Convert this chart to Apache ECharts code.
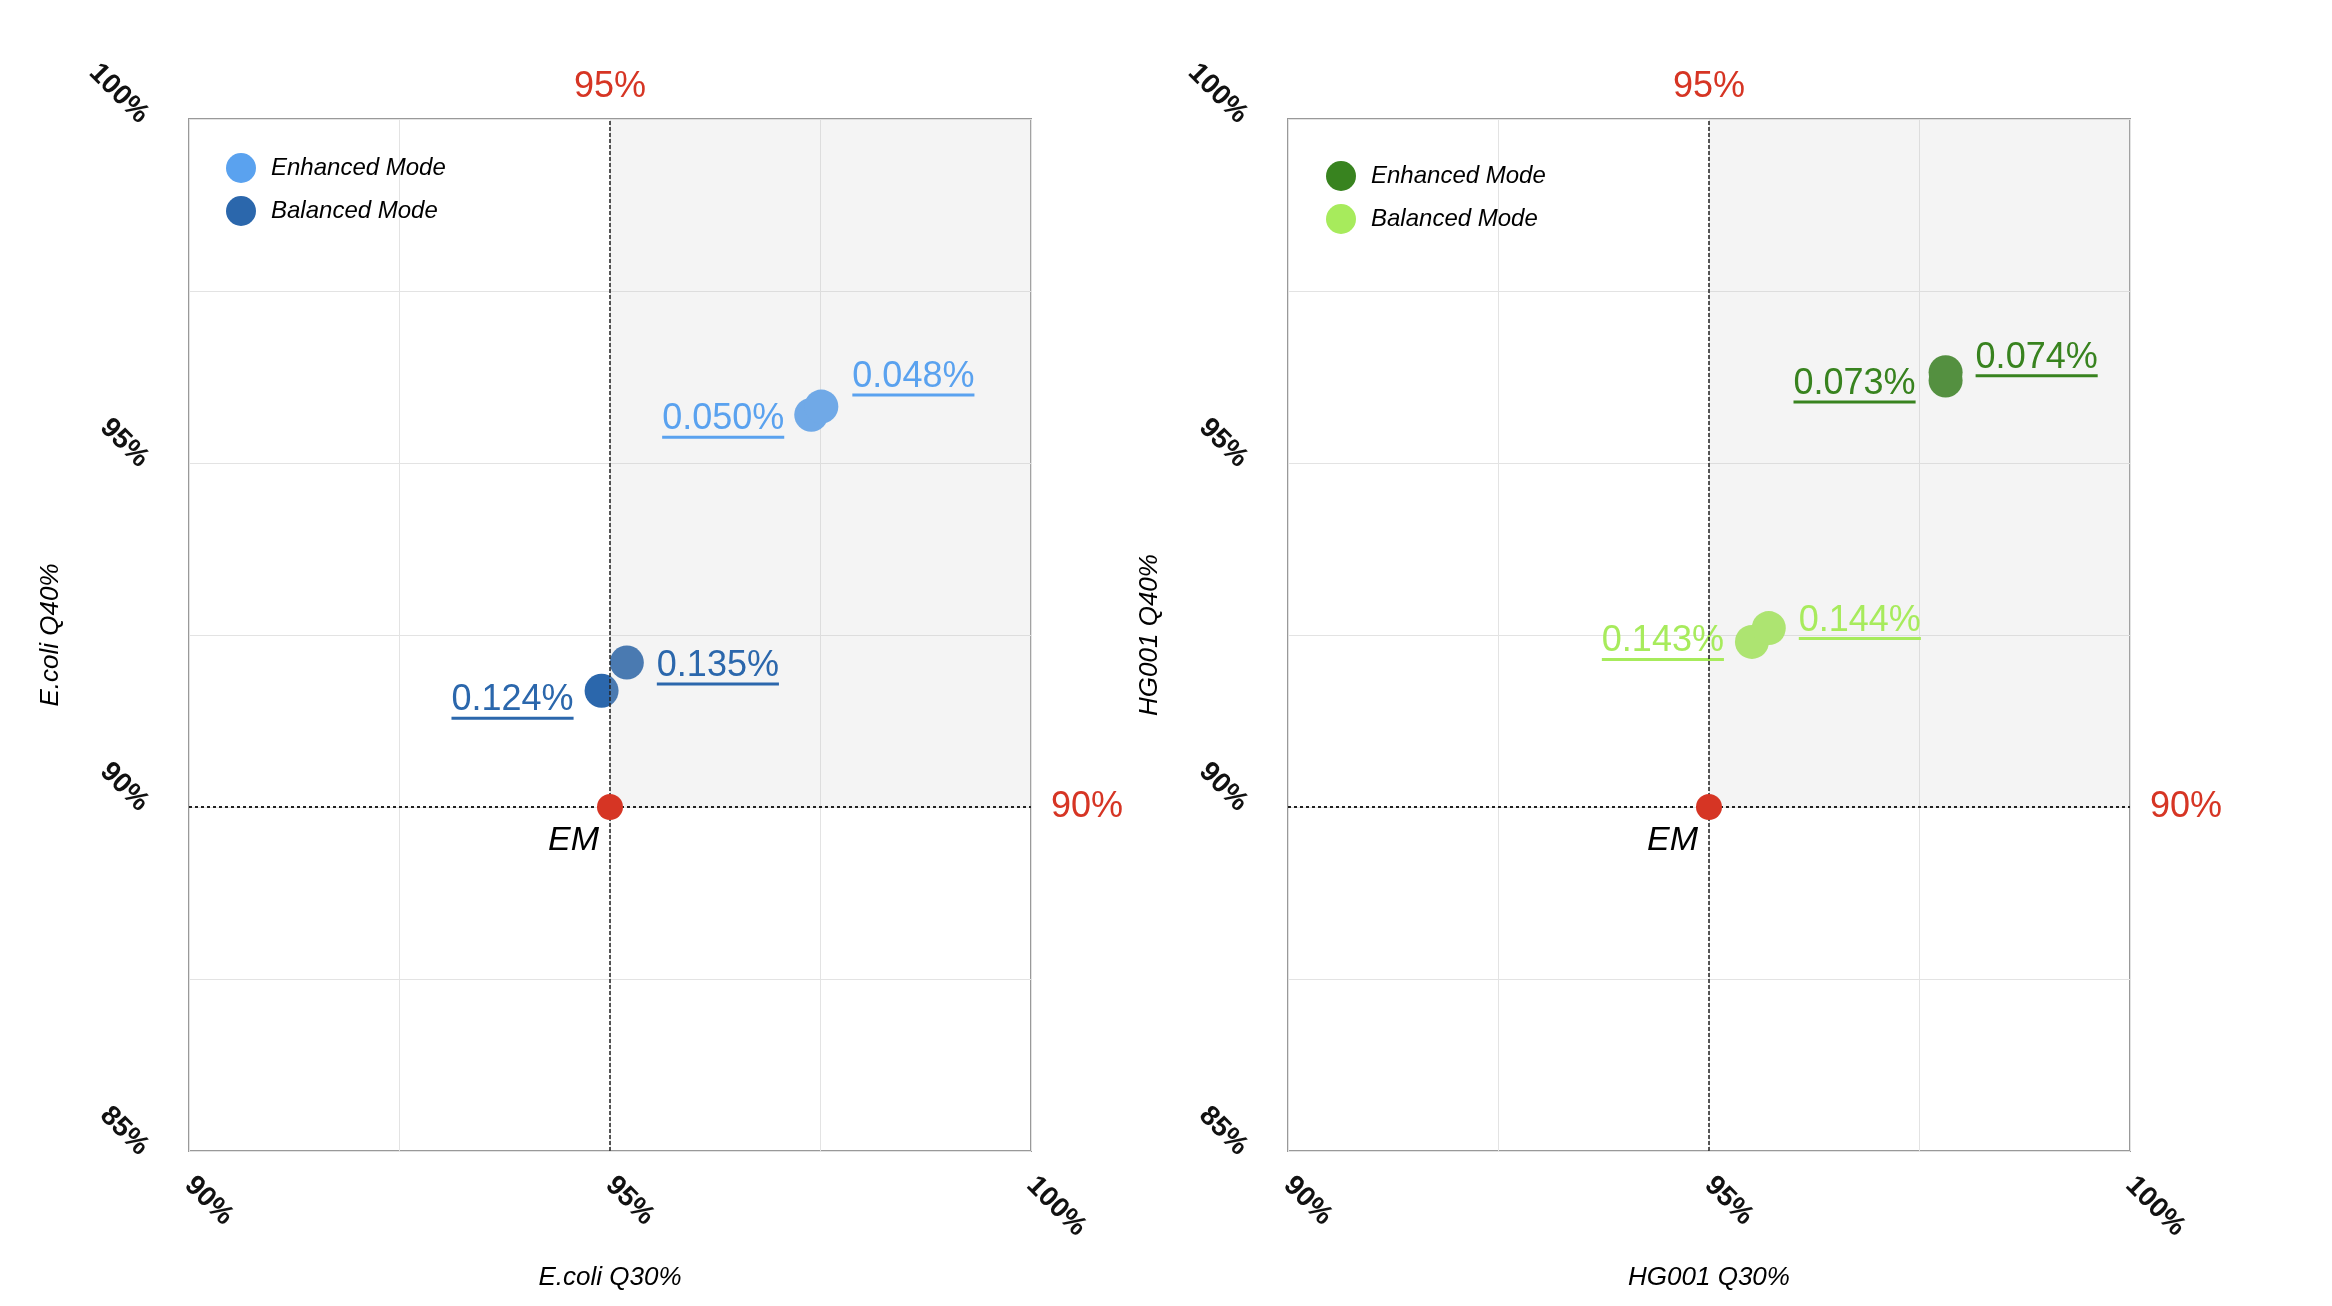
<!DOCTYPE html>
<html>
<head>
<meta charset="utf-8">
<script src="https://cdn.jsdelivr.net/npm/echarts@6/dist/echarts.min.js"></script>
<style>
html,body{margin:0;padding:0;background:#fff;}
#chart{width:2332px;height:1306px;}
</style>
</head>
<body>
<div id="chart"></div>
<script>
// ---------- data ----------
const seriesNames = ['Enhanced Mode', 'Balanced Mode'];
const xLabelTicks = [90, 95, 100];
const yLabelTicks = [85, 90, 95, 100];
const q30Threshold = 95;
const q40Threshold = 90;

// E.coli panel
const ecoliEnhancedQ30 = [97.39, 97.51];
const ecoliEnhancedQ40 = [95.70, 95.82];
const ecoliEnhancedRate = [0.050, 0.048];
const ecoliBalancedQ30 = [94.90, 95.20];
const ecoliBalancedQ40 = [91.69, 92.10];
const ecoliBalancedRate = [0.124, 0.135];

// HG001 panel
const hgEnhancedQ30 = [97.81, 97.81];
const hgEnhancedQ40 = [96.20, 96.32];
const hgEnhancedRate = [0.073, 0.074];
const hgBalancedQ30 = [95.51, 95.71];
const hgBalancedQ40 = [92.40, 92.60];
const hgBalancedRate = [0.143, 0.144];

// ---------- styles ----------
const FONT = '"Liberation Sans", Arial, Helvetica, sans-serif';
const RED = '#d63524';
const colors = {
  ecoliEnhanced: '#5aa2ef',
  ecoliBalanced: '#2b67ac',
  hgEnhanced: '#38831f',
  hgBalanced: '#a7eb5c'
};
// label placement per point (style only)
const labelLayouts = {
  ecoliEnhanced: [{pos: 'left', dist: 10, dy: 6}, {pos: 'right', dist: 14, dy: -28}],
  ecoliBalanced: [{pos: 'left', dist: 11, dy: 11}, {pos: 'right', dist: 13, dy: 5}],
  hgEnhanced: [{pos: 'left', dist: 13, dy: 5}, {pos: 'right', dist: 13, dy: -13}],
  hgBalanced: [{pos: 'left', dist: 11, dy: 1}, {pos: 'right', dist: 13, dy: -6}]
};

const grids = [
  {left: 189, top: 119, width: 842, height: 1032},
  {left: 1288, top: 119, width: 842, height: 1032}
];

function tickFmt(list) {
  return function (v) {
    return list.indexOf(Math.round(v * 100) / 100) >= 0 ? v + '%' : '';
  };
}

function makeAxisCommon() {
  return {
    type: 'value',
    nameLocation: 'middle',
    nameTextStyle: {fontSize: 26, fontStyle: 'italic', color: '#000', fontFamily: FONT},
    axisLine: {show: false},
    axisTick: {show: false},
    splitLine: {show: true, lineStyle: {color: '#e3e3e3', width: 1}},
    axisLabel: {rotate: -45, fontSize: 28, fontWeight: 'bold', color: '#111', fontFamily: FONT}
  };
}

function xAxisFor(gi, name) {
  const a = makeAxisCommon();
  a.gridIndex = gi; a.min = 90; a.max = 100; a.interval = 2.5;
  a.name = name; a.nameGap = 114;
  a.axisLabel.margin = 30;
  a.axisLabel.formatter = tickFmt(xLabelTicks);
  return a;
}
function yAxisFor(gi, name) {
  const a = makeAxisCommon();
  a.gridIndex = gi; a.min = 85; a.max = 100; a.interval = 2.5;
  a.name = name; a.nameGap = 125;
  a.axisLabel.margin = 45;
  a.axisLabel.formatter = tickFmt(yLabelTicks);
  return a;
}

// markers (below the shaded overlay)
function dataSeries(key, fullName, gi, xs, ys, rates) {
  return {
    type: 'scatter',
    name: fullName,
    xAxisIndex: gi, yAxisIndex: gi,
    z: 2,
    symbol: 'circle',
    symbolSize: 34,
    itemStyle: {color: colors[key], opacity: 1},
    emphasis: {disabled: true},
    label: {show: false},
    data: xs.map(function (x, i) { return [x, ys[i], rates[i]]; })
  };
}

// value labels (above the shaded overlay)
function labelSeries(key, gi, xs, ys, rates) {
  const color = colors[key];
  const layout = labelLayouts[key];
  return {
    type: 'scatter',
    name: key + '-labels',
    xAxisIndex: gi, yAxisIndex: gi,
    z: 4,
    silent: true,
    symbol: 'circle',
    symbolSize: 34,
    itemStyle: {color: 'rgba(0,0,0,0)', opacity: 1},
    emphasis: {disabled: true},
    label: {
      show: true,
      formatter: function (p) { return '{t|' + p.value[2].toFixed(3) + '%}\n{u| }'; },
      rich: {
        t: {fontSize: 36, lineHeight: 33, color: color, fontFamily: FONT},
        u: {width: '100%', height: 3, lineHeight: 3, fontSize: 1, backgroundColor: color}
      }
    },
    data: xs.map(function (x, i) {
      return {
        value: [x, ys[i], rates[i]],
        label: {position: layout[i].pos, distance: layout[i].dist, offset: [0, layout[i].dy]}
      };
    })
  };
}

function areaSeries(gi) {
  return {
    type: 'scatter', name: 'area' + gi, xAxisIndex: gi, yAxisIndex: gi, z: 3,
    data: [], silent: true,
    markArea: {
      silent: true,
      z: 3,
      itemStyle: {color: 'rgba(200,200,200,0.2)'},
      data: [[{xAxis: q30Threshold, yAxis: q40Threshold}, {xAxis: 100, yAxis: 100}]]
    }
  };
}

function lineSeries(gi) {
  const lbl = {show: true, color: RED, fontSize: 36, fontFamily: FONT};
  return {
    type: 'scatter', name: 'lines' + gi, xAxisIndex: gi, yAxisIndex: gi, z: 5,
    data: [], silent: true,
    markLine: {
      silent: true,
      z: 5,
      symbol: ['none', 'none'],
      animation: false,
      data: [
        {xAxis: q30Threshold,
         lineStyle: {type: [4, 2], width: 1.5, color: '#222'},
         label: Object.assign({}, lbl, {position: 'end', distance: 14, formatter: q30Threshold + '%'})},
        {yAxis: q40Threshold,
         lineStyle: {type: [3, 3], width: 2, color: '#222'},
         label: Object.assign({}, lbl, {position: 'end', distance: 20, padding: [6, 0, 0, 0], formatter: q40Threshold + '%'})}
      ]
    }
  };
}

function emSeries(gi) {
  return {
    type: 'scatter', name: 'EM' + gi, xAxisIndex: gi, yAxisIndex: gi, z: 6,
    symbolSize: 26,
    itemStyle: {color: RED, opacity: 1},
    emphasis: {disabled: true},
    label: {
      show: true, formatter: 'EM', position: [2, 30], align: 'right', verticalAlign: 'top',
      fontSize: 34, fontStyle: 'italic', color: '#000', fontFamily: FONT
    },
    data: [[q30Threshold, q40Threshold]]
  };
}

function legendFor(prefix, left, top, gap) {
  return {
    data: seriesNames.map(function (n) { return prefix + '|' + n; }),
    formatter: function (name) { return name.split('|')[1]; },
    orient: 'vertical',
    left: left, top: top,
    icon: 'circle',
    itemWidth: 50, itemHeight: 30, itemGap: gap,
    selectedMode: false,
    textStyle: {fontSize: 24, fontStyle: 'italic', color: '#000', fontFamily: FONT}
  };
}

const option = {
  animation: false,
  backgroundColor: '#fff',
  textStyle: {fontFamily: FONT},
  grid: grids.map(function (g) {
    return Object.assign({show: true, borderColor: '#999', borderWidth: 2, backgroundColor: 'transparent', containLabel: false}, g);
  }),
  legend: [legendFor('E.coli', 221, 148, 13), legendFor('HG001', 1321, 156, 13)],
  xAxis: [xAxisFor(0, 'E.coli Q30%'), xAxisFor(1, 'HG001 Q30%')],
  yAxis: [yAxisFor(0, 'E.coli Q40%'), yAxisFor(1, 'HG001 Q40%')],
  series: [
    dataSeries('ecoliEnhanced', 'E.coli|' + seriesNames[0], 0, ecoliEnhancedQ30, ecoliEnhancedQ40, ecoliEnhancedRate),
    dataSeries('ecoliBalanced', 'E.coli|' + seriesNames[1], 0, ecoliBalancedQ30, ecoliBalancedQ40, ecoliBalancedRate),
    dataSeries('hgEnhanced', 'HG001|' + seriesNames[0], 1, hgEnhancedQ30, hgEnhancedQ40, hgEnhancedRate),
    dataSeries('hgBalanced', 'HG001|' + seriesNames[1], 1, hgBalancedQ30, hgBalancedQ40, hgBalancedRate),
    areaSeries(0), areaSeries(1),
    labelSeries('ecoliEnhanced', 0, ecoliEnhancedQ30, ecoliEnhancedQ40, ecoliEnhancedRate),
    labelSeries('ecoliBalanced', 0, ecoliBalancedQ30, ecoliBalancedQ40, ecoliBalancedRate),
    labelSeries('hgEnhanced', 1, hgEnhancedQ30, hgEnhancedQ40, hgEnhancedRate),
    labelSeries('hgBalanced', 1, hgBalancedQ30, hgBalancedQ40, hgBalancedRate),
    lineSeries(0), lineSeries(1),
    emSeries(0), emSeries(1)
  ]
};

const chart = echarts.init(document.getElementById('chart'), null, {renderer: 'canvas'});
chart.setOption(option);
</script>
</body>
</html>
